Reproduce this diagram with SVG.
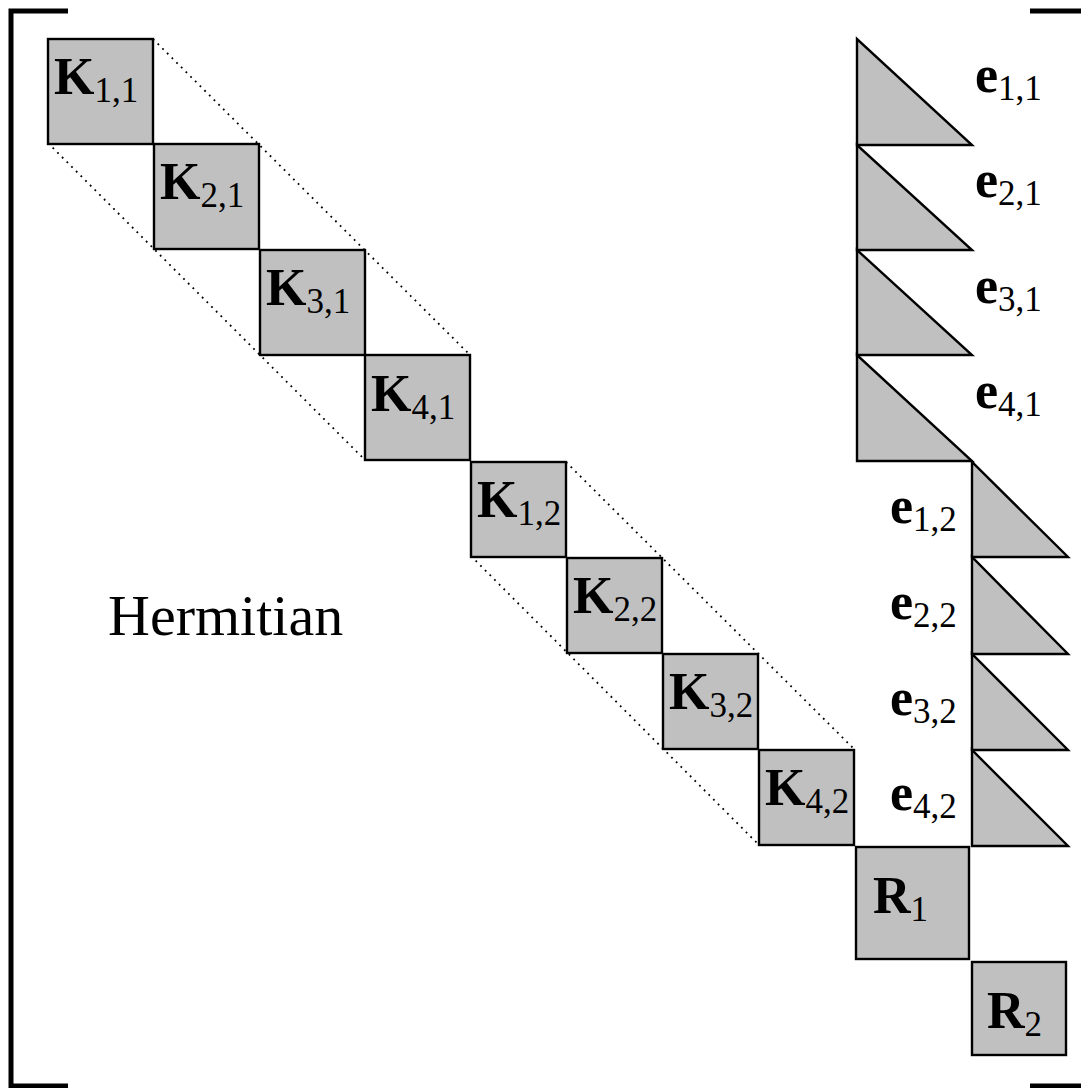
<svg xmlns="http://www.w3.org/2000/svg" width="1081" height="1088" viewBox="0 0 1081 1088">
  <style>
    .blk { fill: #c0c0c0; stroke: #000; stroke-width: 2.4; }
    .tri { fill: #c0c0c0; stroke: #000; stroke-width: 2.4; stroke-linejoin: miter; }
    .brk { fill: none; stroke: #000; stroke-width: 5; }
    .dot { fill: none; stroke: #000; stroke-width: 1.8; stroke-dasharray: 1.8 4.8; }
    text { font-family: "Liberation Serif", "Times New Roman", serif; fill: #000; }
    .m { font-weight: bold; font-size: 52px; }
    .s { font-weight: normal; font-size: 35px; }
    .lbl { font-size: 58px; }
  </style>

  <!-- matrix brackets -->
  <g id="brackets">
    <polyline class="brk" points="68,11 11,11 11,1086 68,1086"/>
    <line class="brk" x1="1030" y1="11" x2="1081" y2="11"/>
    <line class="brk" x1="1030" y1="1086" x2="1081" y2="1086"/>
  </g>

  <!-- dotted band outlines -->
  <g id="connectors">
    <line class="dot" x1="153" y1="39" x2="470" y2="355"/>
    <line class="dot" x1="48" y1="143" x2="365" y2="460"/>
    <line class="dot" x1="566" y1="462" x2="855" y2="750"/>
    <line class="dot" x1="471" y1="556" x2="759" y2="845"/>
  </g>

  <!-- first band -->
  <g id="K11"><rect class="blk" x="48" y="39" width="105" height="105"/><text x="54" y="94"><tspan class="m">K</tspan><tspan class="s" dy="8">1,1</tspan></text></g>
  <g id="K21"><rect class="blk" x="154" y="144" width="105" height="105"/><text x="160" y="199"><tspan class="m">K</tspan><tspan class="s" dy="8">2,1</tspan></text></g>
  <g id="K31"><rect class="blk" x="260" y="250" width="105" height="105"/><text x="266" y="305"><tspan class="m">K</tspan><tspan class="s" dy="8">3,1</tspan></text></g>
  <g id="K41"><rect class="blk" x="365" y="355" width="105" height="105"/><text x="371" y="411"><tspan class="m">K</tspan><tspan class="s" dy="8">4,1</tspan></text></g>

  <!-- second band -->
  <g id="K12"><rect class="blk" x="471" y="462" width="95" height="95"/><text x="477" y="517"><tspan class="m">K</tspan><tspan class="s" dy="8">1,2</tspan></text></g>
  <g id="K22"><rect class="blk" x="567" y="558" width="95" height="95"/><text x="573" y="613"><tspan class="m">K</tspan><tspan class="s" dy="8">2,2</tspan></text></g>
  <g id="K32"><rect class="blk" x="663" y="654" width="95" height="95"/><text x="669" y="709"><tspan class="m">K</tspan><tspan class="s" dy="8">3,2</tspan></text></g>
  <g id="K42"><rect class="blk" x="759" y="750" width="95" height="95"/><text x="765" y="805"><tspan class="m">K</tspan><tspan class="s" dy="8">4,2</tspan></text></g>

  <!-- residual blocks -->
  <g id="R1"><rect class="blk" x="856" y="847" width="113" height="112"/><text x="873" y="913"><tspan class="m">R</tspan><tspan class="s" dy="8">1</tspan></text></g>
  <g id="R2"><rect class="blk" x="972" y="962" width="94" height="93"/><text x="987" y="1028"><tspan class="m">R</tspan><tspan class="s" dy="8">2</tspan></text></g>

  <!-- triangular column blocks, first band -->
  <g id="e11"><polygon class="tri" points="857,39 857,145 972,145"/><text x="975" y="92"><tspan class="m">e</tspan><tspan class="s" dy="8">1,1</tspan></text></g>
  <g id="e21"><polygon class="tri" points="857,145 857,250 972,250"/><text x="975" y="197"><tspan class="m">e</tspan><tspan class="s" dy="8">2,1</tspan></text></g>
  <g id="e31"><polygon class="tri" points="857,250 857,355 972,355"/><text x="975" y="303"><tspan class="m">e</tspan><tspan class="s" dy="8">3,1</tspan></text></g>
  <g id="e41"><polygon class="tri" points="857,355 857,461 972,461"/><text x="975" y="408"><tspan class="m">e</tspan><tspan class="s" dy="8">4,1</tspan></text></g>

  <!-- triangular column blocks, second band -->
  <g id="e12"><polygon class="tri" points="972,462 972,557 1068,557"/><text x="890" y="523"><tspan class="m">e</tspan><tspan class="s" dy="8">1,2</tspan></text></g>
  <g id="e22"><polygon class="tri" points="972,557 972,654 1068,654"/><text x="890" y="619"><tspan class="m">e</tspan><tspan class="s" dy="8">2,2</tspan></text></g>
  <g id="e32"><polygon class="tri" points="972,654 972,750 1068,750"/><text x="890" y="715"><tspan class="m">e</tspan><tspan class="s" dy="8">3,2</tspan></text></g>
  <g id="e42"><polygon class="tri" points="972,750 972,846 1068,846"/><text x="890" y="810"><tspan class="m">e</tspan><tspan class="s" dy="8">4,2</tspan></text></g>

  <g id="hermitian"><text class="lbl" x="108" y="635">Hermitian</text></g>
</svg>
